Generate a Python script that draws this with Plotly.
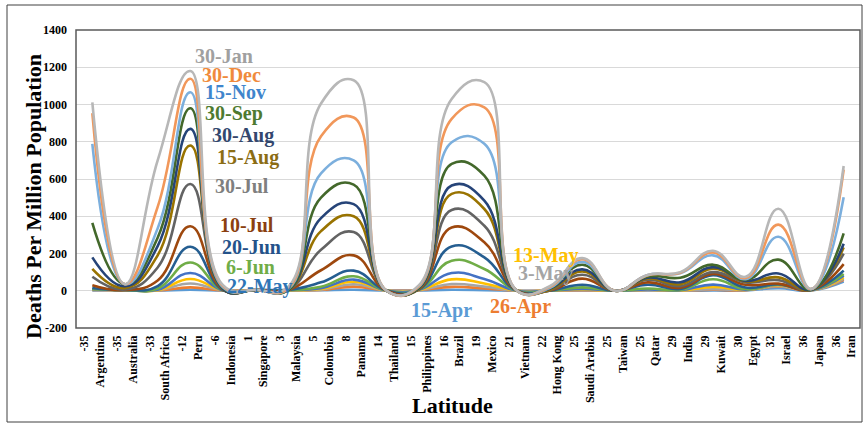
import plotly.graph_objects as go

# Countries ordered by latitude (degrees) along the category axis
countries = ["Argentina", "Australia", "South Africa", "Peru", "Indonesia", "Singapore",
             "Malaysia", "Colombia", "Panama", "Thailand", "Philippines", "Brazil",
             "Mexico", "Vietnam", "Hong Kong", "Saudi Arabia", "Taiwan", "Qatar",
             "India", "Kuwait", "Egypt", "Israel", "Japan", "Iran"]
latitudes = [-35, -35, -33, -12, -6, 1, 3, 5, 8, 14, 15, 16, 19, 21, 22, 25, 25, 25,
             29, 29, 30, 32, 36, 36]

# Cumulative deaths per million population on each date (one list per date)
apr15 = [2, 3, 1, 5, 1, 2, 2, 3, 5, 1, 2, 5, 3, 0, 0.5, 2, 0, 2, 0, 1, 2, 14, 1, 50]
apr26 = [4, 3, 1, 18, 1, 2, 3, 4, 22, 1, 3, 21, 12, 0, 0.5, 3, 0, 4, 1, 5, 3, 23, 2, 58]
may03 = [5, 4, 2, 39, 1, 3, 3, 6, 35, 1, 4, 36, 22, 0, 0.5, 5, 0, 4, 1, 8, 4, 26, 2, 64]
may13 = [7, 4, 3, 63, 2, 3, 3, 9, 48, 1, 4, 61, 39, 0, 0.5, 7, 0, 5, 2, 20, 5, 30, 3, 72]
may22 = [8, 4, 5, 95, 2, 4, 4, 14, 60, 1, 5, 95, 63, 0, 0.5, 10, 0, 7, 3, 33, 6, 32, 3, 81]
jun06 = [10, 4, 12, 152, 3, 4, 4, 22, 78, 1, 6, 161, 117, 0, 0.5, 18, 0, 12, 5, 62, 9, 34, 4, 90]
jun20 = [15, 4, 25, 236, 4, 4, 4, 45, 108, 1, 7, 238, 179, 0, 0.5, 32, 0, 32, 10, 83, 17, 35, 4, 108]
jul10 = [30, 4, 55, 346, 5, 5, 4, 110, 190, 1, 8, 340, 260, 0, 1, 65, 0, 45, 16, 90, 32, 38, 5, 143]
jul30 = [75, 7, 125, 573, 7, 5, 4, 220, 315, 1, 10, 434, 349, 0, 3, 86, 0, 59, 25, 100, 45, 57, 5, 199]
aug15 = [117, 15, 190, 780, 9, 5, 4, 320, 400, 1, 12, 520, 439, 0, 6, 103, 0, 65, 35, 118, 50, 72, 6, 233]
aug30 = [179, 24, 240, 869, 10, 5, 4, 390, 465, 1, 15, 565, 484, 0, 11, 115, 0, 70, 46, 127, 53, 93, 6, 252]
sep30 = [364, 35, 285, 980, 14, 5, 4, 500, 570, 1, 18, 681, 618, 0, 14, 140, 0, 77, 70, 140, 58, 167, 7, 308]
nov15 = [789, 35, 335, 1066, 18, 5, 9, 630, 700, 1, 22, 797, 789, 0, 14, 155, 0, 85, 94, 190, 62, 290, 8, 502]
dec30 = [953, 35, 450, 1138, 25, 5, 14, 830, 930, 1, 25, 923, 985, 0, 20, 170, 0, 83, 97, 205, 68, 355, 9, 650]
jan30 = [1012, 35, 700, 1180, 30, 5, 22, 1005, 1130, 1, 30, 1030, 1120, 0, 24, 175, 0, 85, 100, 215, 75, 440, 10, 670]

date_labels = ["15-Apr", "26-Apr", "3-May", "13-May", "22-May", "6-Jun", "20-Jun", "10-Jul",
               "30-Jul", "15-Aug", "30-Aug", "30-Sep", "15-Nov", "30-Dec", "30-Jan"]
series = [apr15, apr26, may03, may13, may22, jun06, jun20, jul10,
          jul30, aug15, aug30, sep30, nov15, dec30, jan30]
line_colors = ["#5B9BD5", "#ED7D31", "#A5A5A5", "#FFC000", "#4472C4", "#70AD47",
               "#255E91", "#9E480E", "#636363", "#997300", "#264478", "#43682B",
               "#7CAFDD", "#F1975A", "#B7B7B7"]
label_colors = ["#5B9BD5", "#ED7D31", "#A5A5A5", "#FFC000", "#2E75B6", "#70AD47",
                "#24528A", "#8B3F10", "#7F7F7F", "#8B6D14", "#33476E", "#4E7A30",
                "#3F85CC", "#F08A3C", "#A0A0A0"]
# label centres in pixels (x, y)
label_pos = [(441, 310), (520, 306), (546, 273), (546, 255), (260, 286), (250, 267),
             (251, 247), (247, 225), (242, 186), (248, 157), (243, 135), (234, 113),
             (235, 92), (231, 75), (224, 56)]

W, H = 864, 428
L, R, T, B = 76, 860, 30, 328


def px(x):
    return (x - L) / (R - L)


def py(y):
    return (B - y) / (B - T)


serif = "Liberation Serif, Times New Roman, serif"
xs = list(range(len(countries)))
ticktext = [f"<b>{lat}<br>{c}</b>" for lat, c in zip(latitudes, countries)]
yticks = list(range(-200, 1401, 200))

fig = go.Figure()
for name, vals, col in zip(date_labels, series, line_colors):
    fig.add_trace(go.Scatter(
        x=xs, y=vals, name=name, mode="lines",
        line=dict(color=col, width=2.6, shape="spline", smoothing=1.3),
        showlegend=False, hoverinfo="skip"))

annotations = []
for name, col, (lx, ly) in zip(date_labels, label_colors, label_pos):
    annotations.append(dict(
        text=f"<b>{name}</b>", x=px(lx), y=py(ly), xref="paper", yref="paper",
        xanchor="center", yanchor="middle", showarrow=False,
        font=dict(family=serif, size=20, color=col)))

annotations.append(dict(
    text="<b>Deaths Per Million Population</b>", x=px(33), y=py(197),
    xref="paper", yref="paper", textangle=-90, showarrow=False,
    xanchor="center", yanchor="middle",
    font=dict(family=serif, size=22, color="#000000")))
annotations.append(dict(
    text="<b>Latitude</b>", x=px(452), y=py(405), xref="paper", yref="paper",
    showarrow=False, xanchor="center", yanchor="middle",
    font=dict(family=serif, size=22, color="#000000")))

shapes = [
    # plot frame
    dict(type="rect", xref="paper", yref="paper", x0=0, x1=1, y0=0, y1=1,
         line=dict(color="#595959", width=1.5), layer="above"),
    # chart frame
    dict(type="rect", xref="paper", yref="paper", x0=px(7), x1=px(862),
         y0=py(422), y1=py(5), line=dict(color="#404040", width=1), layer="above"),
]

fig.update_layout(
    width=W, height=H,
    margin=dict(l=L, r=W - R, t=T, b=H - B, pad=0),
    paper_bgcolor="white", plot_bgcolor="white",
    annotations=annotations, shapes=shapes,
    xaxis=dict(range=[-0.5, len(countries) - 0.5], tickmode="array", tickvals=xs,
               ticktext=ticktext, tickangle=-90, showgrid=False, zeroline=False,
               showline=False, ticks="", ticklabelstandoff=4,
               tickfont=dict(family=serif, size=12, color="#000000"),
               automargin=False),
    yaxis=dict(range=[-200, 1400], tickmode="array", tickvals=yticks,
               ticktext=[f"<b>{v}</b>" for v in yticks], showgrid=True,
               gridcolor="#D9D9D9", gridwidth=1, zeroline=False, showline=False,
               ticks="", ticklabelstandoff=8,
               tickfont=dict(family=serif, size=12, color="#000000"),
               automargin=False),
    font=dict(family=serif),
)

fig.write_html("out.html")
